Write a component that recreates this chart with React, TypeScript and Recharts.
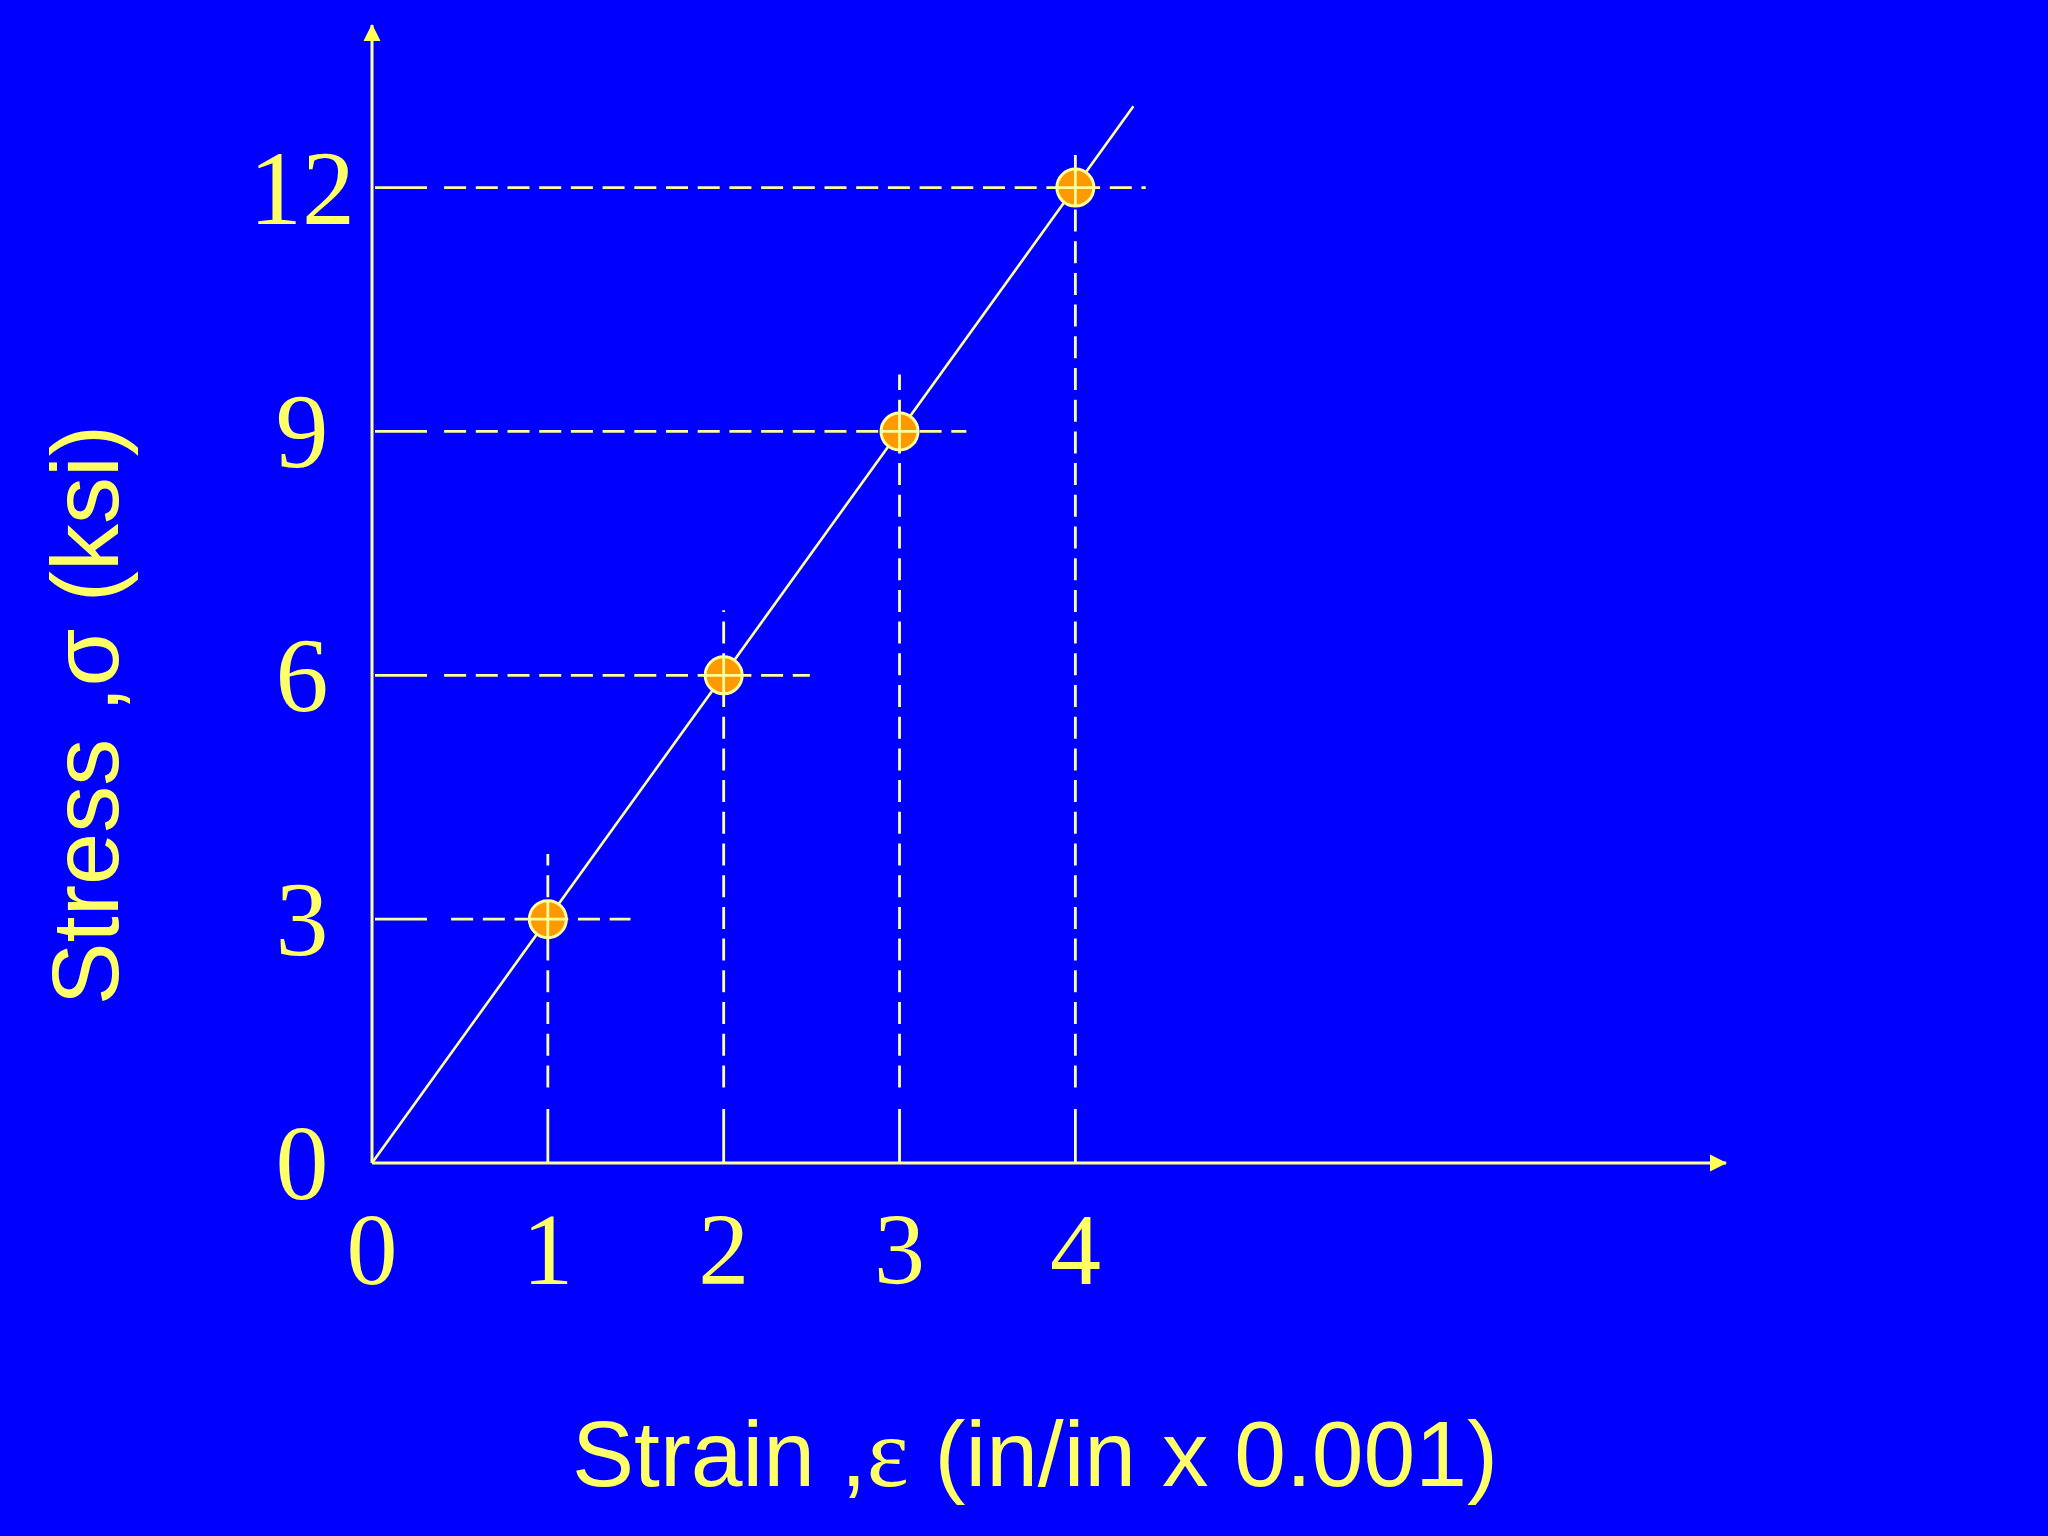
import React from 'react'
import { ComposedChart, Line, Scatter, XAxis, YAxis, ReferenceLine } from 'recharts'

// strain (in/in x 0.001) and stress (ksi)
const strainTicks = [0, 1, 2, 3, 4]
const stressTicks = [0, 3, 6, 9, 12]
const strain = [1, 2, 3, 4]
const stress = [3, 6, 9, 12]

// the straight line runs from the origin a bit past the last point
const lineStrain = [0, 4.33]
const lineStress = [0, 13]

// how far the dashed guides reach, per point
const guideStartX = [0.45, 0.41, 0.41, 0.41]
const guideEndX = [1.47, 2.49, 3.38, 4.4]
const guideStartY = [0.93, 0.93, 0.93, 0.93]
const guideEndY = [3.8, 6.8, 9.7, 12.4]

const BG = '#0000FF'
const LINE = '#FFFF99'
const TEXT = '#FFFF66'
const ARROW = '#FFFF55'
const SERIF = "'Liberation Serif', 'Times New Roman', serif"
const SANS = "'Liberation Sans', Arial, sans-serif"

const points = strain.map((x, i) => ({ x, y: stress[i] }))
const lineData = lineStrain.map((x, i) => ({ x, y: lineStress[i] }))

function StrainTick({ x, y, payload }: any) {
  return (
    <g>
      {payload.value !== 0 && <line x1={x} y1={y} x2={x} y2={y - 54} stroke={LINE} strokeWidth={2.8} />}
      <text x={x} y={y + 121} textAnchor="middle" fontFamily={SERIF} fontSize={102} fill={TEXT}>{payload.value}</text>
    </g>
  )
}

function StressTick({ x, y, payload }: any) {
  return (
    <g>
      {payload.value !== 0 && <line x1={x + 3} y1={y} x2={x + 55} y2={y} stroke={LINE} strokeWidth={2.8} />}
      <text x={x - 70} y={y + 36} textAnchor="middle" fontFamily={SERIF} fontSize={106} fill={TEXT}>{payload.value}</text>
    </g>
  )
}

function Dot({ cx, cy }: any) {
  return (
    <g>
      <circle cx={cx} cy={cy} r={18.5} fill="#FF9900" stroke={LINE} strokeWidth={3} />
      <line x1={cx - 19} y1={cy} x2={cx + 19} y2={cy} stroke={LINE} strokeWidth={2.8} />
      <line x1={cx} y1={cy - 19} x2={cx} y2={cy + 19} stroke={LINE} strokeWidth={2.8} />
    </g>
  )
}

export default function App() {
  const axisLine = { stroke: LINE, strokeWidth: 3 }
  return (
    <div style={{ position: 'absolute', left: 0, top: 0, width: 2048, height: 1536, background: BG, overflow: 'hidden' }}>
      <svg width={0} height={0} style={{ position: 'absolute' }}>
        <defs>
          <marker id="axisArrow" markerUnits="userSpaceOnUse" viewBox="0 0 17 18" markerWidth={17} markerHeight={18}
            refX={16} refY={9} orient="auto-start-reverse">
            <path d="M0,0.5 L17,9 L0,17.5 z" fill={ARROW} />
          </marker>
        </defs>
      </svg>

      <ComposedChart width={2048} height={1536} margin={{ top: 25, right: 322, bottom: 0, left: 0 }}>
        <XAxis type="number" dataKey="x" domain={[0, 7.7]} ticks={strainTicks} height={373}
          allowDataOverflow tickLine={false} tickSize={0} tickMargin={0}
          axisLine={{ ...axisLine, markerEnd: 'url(#axisArrow)' }} tick={<StrainTick />} />
        <YAxis type="number" dataKey="y" domain={[0, 14]} ticks={stressTicks} width={372}
          allowDataOverflow tickLine={false} tickSize={0} tickMargin={0}
          axisLine={{ ...axisLine, markerStart: 'url(#axisArrow)' }} tick={<StressTick />} />

        {stress.map((v, i) => (
          <ReferenceLine key={'h' + i} ifOverflow="visible" stroke={LINE} strokeWidth={2.8} strokeDasharray="22 9.7"
            segment={[{ x: guideStartX[i], y: v }, { x: guideEndX[i], y: v }]} />
        ))}
        {strain.map((v, i) => (
          <ReferenceLine key={'v' + i} ifOverflow="visible" stroke={LINE} strokeWidth={2.8} strokeDasharray="22 9.7"
            segment={[{ x: v, y: guideStartY[i] }, { x: v, y: guideEndY[i] }]} />
        ))}

        <Line data={lineData} dataKey="y" type="linear" stroke={LINE} strokeWidth={2.6}
          dot={false} activeDot={false} isAnimationActive={false} />
        <Scatter data={points} dataKey="y" shape={<Dot />} isAnimationActive={false} />
      </ComposedChart>

      <svg width={2048} height={1536} style={{ position: 'absolute', left: 0, top: 0, pointerEvents: 'none' }}>
        <text x={118} y={715} transform="rotate(-90 118 715)" textAnchor="middle" fontFamily={SANS} fontSize={94} fill={TEXT}>
          Stress ,σ (ksi)
        </text>
        <text x={1035} y={1486} textAnchor="middle" fontFamily={SANS} fontSize={93} fill={TEXT}>
          Strain ,<tspan fontFamily={SERIF} fontSize={100}>ε</tspan> (in/in x 0.001)
        </text>
      </svg>
    </div>
  )
}
